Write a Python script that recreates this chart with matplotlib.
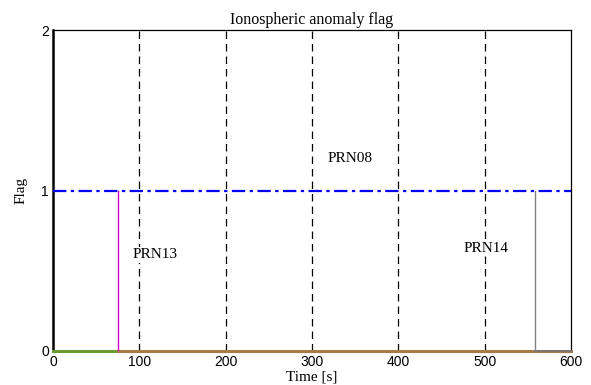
import matplotlib
matplotlib.use("Agg")
import matplotlib.pyplot as plt

# flag time series (time in s, flag value)
prn08_t = [0, 600]
prn08_flag = [1, 1]

prn13_zero_t = [0, 75]
prn13_switch_t = [75, 75]
prn13_switch_flag = [1, 0]
prn13_after_t = [75, 600]

prn14_t = [558, 558, 600]
prn14_flag = [1, 0, 0]

grid_x = [100, 200, 300, 400, 500]
xticks = [0, 100, 200, 300, 400, 500, 600]
yticks = [0, 1, 2]

labels = ["PRN08", "PRN13", "PRN14"]
label_pos = [(318, 1.2), (92, 0.6), (475, 0.64)]

fig = plt.figure(figsize=(5.91, 3.85), dpi=100)
ax = fig.add_axes([53 / 591, 1 - 351 / 385, 518 / 591, 321 / 385])

for x in grid_x:
    ax.axvline(x, color="black", linestyle=(0, (6, 4)), linewidth=0.9, zorder=1)

# zero-level segments
ax.plot(prn13_zero_t, [0, 0], color="#6b9a2e", linewidth=2.2, zorder=3, clip_on=False)
ax.plot(prn13_after_t, [0, 0], color="#a87a48", linewidth=2.2, zorder=3, clip_on=False)
ax.plot(prn14_t[1:], prn14_flag[1:], color="#777777", linewidth=1.2, zorder=4, clip_on=False)

# vertical transitions
ax.plot(prn13_switch_t, prn13_switch_flag, color="#cc00cc", linewidth=1.0, zorder=4)
ax.plot(prn14_t[:2], prn14_flag[:2], color="#808080", linewidth=1.0, zorder=4)

# PRN08 at 1 the whole time
ax.plot(prn08_t, prn08_flag, color="#0000ee", linestyle=(0, (6, 2, 1.5, 2)),
        linewidth=1.6, zorder=5)

for text, (x, y) in zip(labels, label_pos):
    ax.text(x, y, text, ha="left", va="center", family="Liberation Serif",
            fontsize=11, zorder=6,
            bbox=dict(facecolor="white", edgecolor="none", pad=1))

ax.set_xlim(0, 600)
ax.set_ylim(0, 2)
ax.set_xticks(xticks)
ax.set_yticks(yticks)
ax.tick_params(direction="in", length=0, labelsize=10, pad=3)
for lab in ax.get_xticklabels() + ax.get_yticklabels():
    lab.set_family("Liberation Sans")

ax.spines["left"].set_linewidth(1.8)
for s in ["top", "right", "bottom"]:
    ax.spines[s].set_linewidth(0.9)

ax.set_title("Ionospheric anomaly flag", family="Liberation Serif", fontsize=11.5, pad=4)
ax.set_xlabel("Time [s]", family="Liberation Serif", fontsize=11, labelpad=1)
ax.set_ylabel("Flag", family="Liberation Serif", fontsize=11, labelpad=10)

fig.savefig("out.png", dpi=100)
